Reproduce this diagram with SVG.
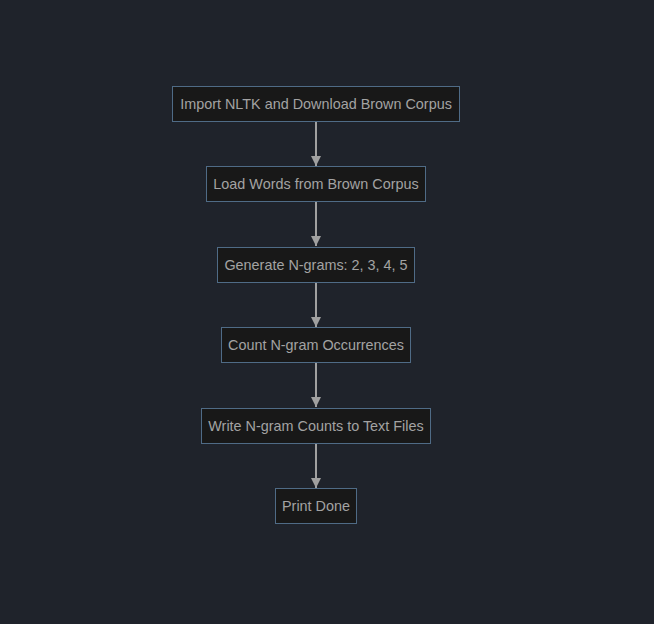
<svg xmlns="http://www.w3.org/2000/svg" width="654" height="624" viewBox="0 0 654 624">
<defs>
<style>
.bg{fill:#1f232b}
.node rect{fill:#181818;stroke:#4f6b86;stroke-width:1}
.node text{fill:#a3a3a3;font-family:"Liberation Sans",Arial,sans-serif;font-size:14.4px;text-anchor:middle}
.edge{stroke:#a0a0a0;stroke-width:2;fill:none}
</style>
<marker id="arr" viewBox="0 0 10 10" refX="10" refY="5" markerWidth="10" markerHeight="10" markerUnits="userSpaceOnUse" orient="auto">
<path d="M0,0 L10,5 L0,10 z" fill="#a0a0a0"/>
</marker>
</defs>
<rect class="bg" x="0" y="0" width="654" height="624"/>
<g id="connectors">
<line class="edge" x1="316" y1="122" x2="316" y2="166" marker-end="url(#arr)"/>
<line class="edge" x1="316" y1="202" x2="316" y2="246" marker-end="url(#arr)"/>
<line class="edge" x1="316" y1="283" x2="316" y2="327" marker-end="url(#arr)"/>
<line class="edge" x1="316" y1="363" x2="316" y2="407" marker-end="url(#arr)"/>
<line class="edge" x1="316" y1="444" x2="316" y2="488" marker-end="url(#arr)"/>
</g>
<g id="n1" class="node"><rect x="172.5" y="86.5" width="287" height="35"/><text x="316" y="109">Import NLTK and Download Brown Corpus</text></g>
<g id="n2" class="node"><rect x="206.5" y="166.5" width="219" height="35"/><text x="316" y="189">Load Words from Brown Corpus</text></g>
<g id="n3" class="node"><rect x="217.5" y="247.5" width="197" height="35"/><text x="316" y="270">Generate N-grams: 2, 3, 4, 5</text></g>
<g id="n4" class="node"><rect x="221.5" y="327.5" width="189" height="35"/><text x="316" y="350">Count N-gram Occurrences</text></g>
<g id="n5" class="node"><rect x="201.5" y="408.5" width="229" height="35"/><text x="316" y="431">Write N-gram Counts to Text Files</text></g>
<g id="n6" class="node"><rect x="275.5" y="488.5" width="81" height="35"/><text x="316" y="511">Print Done</text></g>
</svg>
